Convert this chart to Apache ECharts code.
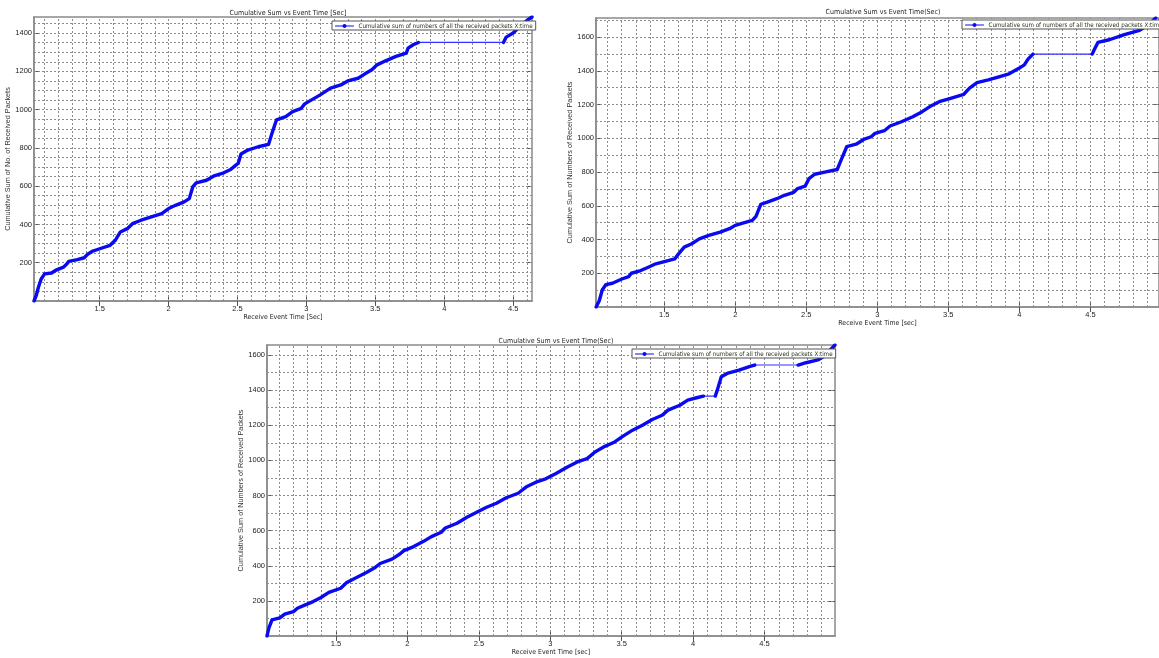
<!DOCTYPE html>
<html>
<head>
<meta charset="utf-8">
<script src="https://cdn.jsdelivr.net/npm/echarts@6/dist/echarts.min.js"></script>
<style>html,body{margin:0;padding:0;background:#fff;}#c{width:1159px;height:658px;}</style>
</head>
<body>
<div id="c"></div>
<script>
// ---------- DATA ----------
const legendName = 'Cumulative sum of numbers of all the received packets X:time';
const title1 = 'Cumulative Sum vs Event Time [Sec]';
const title2 = 'Cumulative Sum vs Event Time(Sec)';
const title3 = 'Cumulative Sum vs Event Time(Sec)';
const xName1 = 'Receive Event Time [Sec]';
const xName2 = 'Receive Event Time [sec]';
const xName3 = 'Receive Event Time [sec]';
const yName1 = 'Cumulative Sum of No. of Received Packets';
const yName2 = 'Cumulative Sum of Numbers of Received Packets';
const yName3 = 'Cumulative Sum of Numbers of Received Packets';

const xTicks = [1.5, 2, 2.5, 3, 3.5, 4, 4.5];
const yTicks1 = [200, 400, 600, 800, 1000, 1200, 1400];
const yTicks2 = [200, 400, 600, 800, 1000, 1200, 1400, 1600];
const yTicks3 = [200, 400, 600, 800, 1000, 1200, 1400, 1600];

// panel 1 (top-left)
const t1 = [1.023,1.04,1.055,1.075,1.1,1.15,1.1875,1.2375,1.2625,1.275,1.3375,1.3875,1.4125,1.45,1.5,1.575,1.6125,1.65,1.7,1.7375,1.8,1.875,1.95,2.0,2.05,2.1125,2.15,2.175,2.2,2.275,2.325,2.4,2.45,2.4875,2.505,2.525,2.575,2.65,2.725,2.75,2.7825,2.85,2.9,2.9625,2.9875,3.0375,3.1,3.175,3.25,3.3,3.375,3.425,3.475,3.5125,3.575,3.65,3.725,3.7375,3.775,3.8125,4.43,4.45,4.5,4.55,4.6,4.637];
const n1 = [0,30,72,115,142,146,163,177,195,207,216,226,244,261,273,291,317,361,378,404,422,439,457,483,500,518,535,596,617,631,652,670,687,710,719,768,789,806,818,876,946,963,990,1007,1030,1051,1077,1112,1129,1150,1164,1187,1208,1234,1255,1278,1295,1321,1339,1351,1351,1379,1400,1435,1466,1484];
const gaps1 = [59];

// panel 2 (top-right)
const t2 = [1.021,1.043,1.064,1.09,1.136,1.202,1.25,1.269,1.335,1.388,1.441,1.508,1.574,1.601,1.641,1.694,1.747,1.814,1.894,1.96,2.0,2.053,2.12,2.146,2.18,2.226,2.293,2.346,2.412,2.439,2.492,2.519,2.559,2.638,2.718,2.745,2.785,2.851,2.904,2.957,2.984,3.05,3.09,3.17,3.25,3.316,3.37,3.436,3.516,3.609,3.649,3.702,3.782,3.862,3.928,4.0,4.035,4.061,4.096,4.513,4.527,4.553,4.633,4.739,4.846,4.912,4.96];
const n2 = [0,37,101,133,141,166,180,200,216,236,256,271,285,315,355,375,404,424,444,464,484,497,513,537,609,622,642,662,680,702,716,761,787,801,815,870,950,965,993,1009,1029,1045,1073,1098,1128,1158,1188,1217,1237,1261,1297,1330,1346,1366,1382,1416,1435,1469,1499,1499,1525,1568,1584,1614,1640,1674,1713];
const gaps2 = [58];

// panel 3 (bottom)
const t3 = [1.017,1.03,1.052,1.106,1.141,1.202,1.23,1.285,1.34,1.395,1.45,1.533,1.575,1.644,1.713,1.768,1.809,1.892,1.947,1.975,2.044,2.113,2.168,2.237,2.265,2.347,2.416,2.485,2.554,2.623,2.692,2.775,2.83,2.899,2.968,3.037,3.12,3.189,3.258,3.313,3.382,3.451,3.507,3.576,3.645,3.714,3.783,3.824,3.907,3.962,4.031,4.072,4.155,4.169,4.197,4.238,4.321,4.404,4.431,4.735,4.79,4.873,4.914,4.956,4.993];
const n3 = [0,45,92,103,125,139,158,177,196,219,248,272,305,333,362,387,413,438,467,486,509,539,566,591,615,642,676,705,733,756,787,813,848,876,895,924,962,991,1010,1048,1080,1105,1137,1172,1200,1233,1257,1286,1314,1343,1358,1366,1366,1400,1476,1495,1514,1537,1543,1543,1556,1572,1591,1626,1657];
const gaps3 = [51, 58];

// ---------- LAYOUT ----------
const FN = "'Liberation Sans Narrow','DejaVu Sans Condensed','Arial Narrow',sans-serif";
const FR = "'Liberation Sans',Arial,sans-serif";
const panels = [
  {t:t1, n:n1, gaps:gaps1, yTicks:yTicks1, yStep:50, title:title1, xName:xName1, yName:yName1,
   grid:{left:34, top:17, width:498, height:284}, xmin:1.023, xmax:4.637, ymax:1484,
   titlePos:{x:283, y:5}, legendPos:{left:332, top:21}},
  {t:t2, n:n2, gaps:gaps2, yTicks:yTicks2, yStep:100, title:title2, xName:xName2, yName:yName2,
   grid:{left:596, top:18, width:566, height:289}, xmin:1.02, xmax:4.983, ymax:1713,
   titlePos:{x:878, y:4}, legendPos:{left:962, top:20}},
  {t:t3, n:n3, gaps:gaps3, yTicks:yTicks3, yStep:100, title:title3, xName:xName3, yName:yName3,
   grid:{left:267, top:345, width:568, height:291}, xmin:1.017, xmax:4.993, ymax:1657,
   titlePos:{x:551, y:333}, legendPos:{left:632, top:349}}
];

const grids = [], xAxes = [], yAxes = [], series = [], titles = [], legends = [];
const gridLineStyle = {color:'#8c8c8c', width:1, type:[2,2]};
const plain = v => String(v);

panels.forEach((p, i) => {
  grids.push(Object.assign({show:true, borderColor:'#8a8a8a', borderWidth:1.5, backgroundColor:'#fff'}, p.grid));
  titles.push({text:p.title, left:p.titlePos.x, top:p.titlePos.y, textAlign:'center',
    textStyle:{fontSize:7, fontWeight:'normal', fontFamily:FN, color:'#222'}});
  const axisLine = {show:true, lineStyle:{color:'#8a8a8a', width:1.5}};
  xAxes.push({type:'value', gridIndex:i, position:'bottom', min:p.xmin, max:p.xmax,
    axisLine, splitLine:{show:false},
    axisTick:{show:true, inside:true, length:5, customValues:xTicks, lineStyle:{color:'#555'}},
    axisLabel:{customValues:xTicks, formatter:plain, fontSize:7.5, fontFamily:FR, color:'#222', margin:4},
    name:p.xName, nameLocation:'middle', nameGap:11,
    nameTextStyle:{fontSize:6.9, fontFamily:FN, color:'#222'}});
  xAxes.push({type:'value', gridIndex:i, position:'top', min:p.xmin, max:p.xmax,
    axisLine:{show:false}, splitLine:{show:false}, axisLabel:{show:false},
    axisTick:{show:true, inside:true, length:5, customValues:xTicks, lineStyle:{color:'#555'}}});
  yAxes.push({type:'value', gridIndex:i, position:'left', min:0, max:p.ymax,
    axisLine, splitLine:{show:false},
    axisTick:{show:true, inside:true, length:6, customValues:p.yTicks, lineStyle:{color:'#555'}},
    axisLabel:{customValues:p.yTicks, formatter:plain, fontSize:7.5, fontFamily:FR, color:'#222', margin:2},
    name:p.yName, nameLocation:'middle', nameGap:18, nameRotate:90,
    nameTextStyle:{fontSize:7.3, fontFamily:FR, color:'#333'}});
  yAxes.push({type:'value', gridIndex:i, position:'right', min:0, max:p.ymax,
    axisLine:{show:false}, splitLine:{show:false}, axisLabel:{show:false},
    axisTick:{show:true, inside:true, length:6, customValues:p.yTicks, lineStyle:{color:'#555'}}});

  // grid line positions (every 0.1 s and every yStep)
  const lines = [];
  for (let k = Math.ceil(p.xmin * 10 + 1e-6); k / 10 < p.xmax - 1e-6; k++) lines.push({xAxis: k / 10});
  for (let v = p.yStep; v < p.ymax - 1e-6; v += p.yStep) lines.push({yAxis: v});

  // main (thick, densely-marked) trace and thin connecting gap segments
  const main = [], thin = [];
  p.t.forEach((tv, k) => {
    main.push([tv, p.n[k]]);
    if (p.gaps.indexOf(k) >= 0) {
      main.push([tv, '-']);
      if (thin.length) thin.push([tv, '-']);
      thin.push([tv, p.n[k]], [p.t[k + 1], p.n[k + 1]]);
    }
  });
  series.push({type:'line', name:'gap' + i, xAxisIndex:2 * i, yAxisIndex:2 * i, data:thin,
    symbol:'none', z:2, lineStyle:{width:1.2, color:'#3030ff'}, silent:true,
    markLine:{silent:true, z:1, symbol:['none', 'none'], label:{show:false},
      lineStyle:gridLineStyle, emphasis:{disabled:true}, animation:false, data:lines}});
  series.push({type:'line', name:legendName, xAxisIndex:2 * i, yAxisIndex:2 * i, data:main,
    symbol:'circle', symbolSize:4, showSymbol:false, z:3,
    lineStyle:{width:3.4, color:'#0a0af0', join:'round', cap:'round'}, itemStyle:{color:'#0a0af0'}});
  legends.push({data:[legendName], left:p.legendPos.left, top:p.legendPos.top, orient:'horizontal',
    backgroundColor:'#fff', borderColor:'#555', borderWidth:1, padding:[2, 3, 1, 3],
    itemWidth:18, itemHeight:5, itemGap:4, selectedMode:false,
    lineStyle:{width:1}, textStyle:{fontSize:6.2, fontFamily:FN, color:'#1e2c10'}});
});

const chart = echarts.init(document.getElementById('c'), null, {renderer:'canvas'});
chart.setOption({animation:false, backgroundColor:'#fff', title:titles, legend:legends,
  grid:grids, xAxis:xAxes, yAxis:yAxes, series:series});
</script>
</body>
</html>
